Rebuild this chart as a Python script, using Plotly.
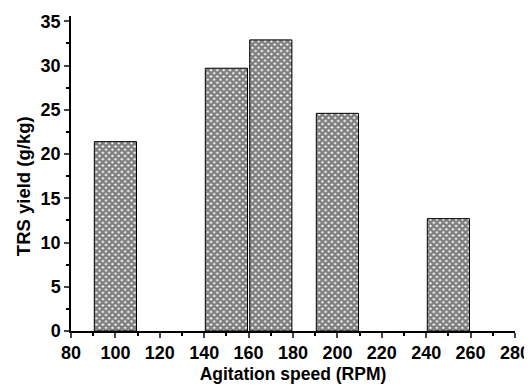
import plotly.graph_objects as go

speeds = [100, 150, 170, 200, 250]
trs_yield = [21.4, 29.7, 32.9, 24.6, 12.7]
bar_width = 19

x_ticks = list(range(80, 281, 20))
y_ticks = list(range(0, 36, 5))

fnt = "Liberation Sans, Arial, sans-serif"

fig = go.Figure()
fig.add_trace(go.Bar(
    x=speeds, y=trs_yield, width=bar_width,
    marker=dict(color="white", line=dict(color="black", width=1),
                pattern=dict(shape="x", fgcolor="black", bgcolor="white",
                             size=4.5, solidity=0.8, fillmode="overlay")),
))

# page body has an 8px default margin, so the figure is sized to fit the 532x392 window
fig.update_layout(
    width=524, height=384,
    margin=dict(l=63, r=17, t=8, b=61, autoexpand=False),
    paper_bgcolor="white", plot_bgcolor="white",
    showlegend=False,
    font=dict(family=fnt, color="black"),
)
fig.update_xaxes(
    range=[80, 280], tickvals=x_ticks, ticks="outside", ticklen=5, tickwidth=1.5,
    showline=True, linecolor="black", linewidth=1.5, showgrid=False, zeroline=False,
    automargin=False,
    tickfont=dict(size=18, weight="bold", family=fnt),
    minor=dict(dtick=10, tick0=80, ticks="outside", ticklen=3, tickwidth=1.5, tickcolor="black"),
    title=dict(text="Agitation speed (RPM)", font=dict(size=17.5, weight="bold", family=fnt), standoff=5),
)
fig.update_yaxes(
    range=[0, 35.6], tickvals=y_ticks, ticks="outside", ticklen=5, tickwidth=1.5,
    showline=True, linecolor="black", linewidth=1.5, showgrid=False, zeroline=False,
    automargin=False,
    tickfont=dict(size=18, weight="bold", family=fnt),
    minor=dict(dtick=2.5, tick0=0, ticks="outside", ticklen=3, tickwidth=1.5, tickcolor="black"),
)
fig.add_annotation(
    text="TRS yield (g/kg)", textangle=-90, showarrow=False,
    xref="paper", yref="paper", x=-0.108, y=0.46, xanchor="center", yanchor="middle",
    font=dict(size=18.5, weight="bold", family=fnt, color="black"),
)

fig.write_html("out.html")
